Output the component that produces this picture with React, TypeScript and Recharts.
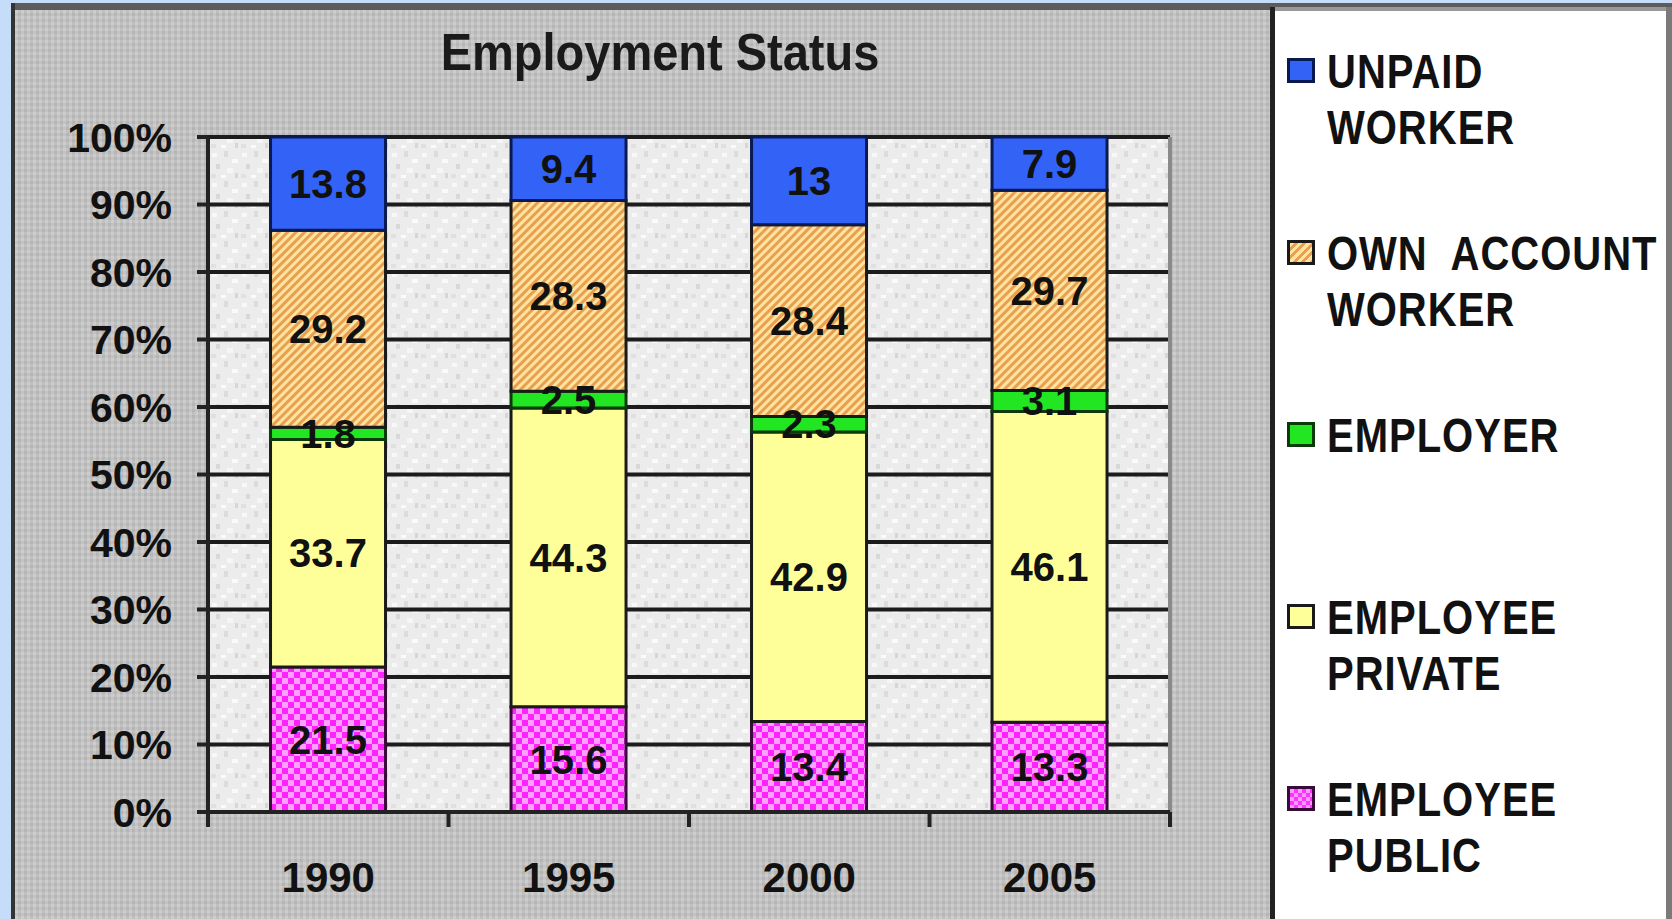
import React from 'react';
import { BarChart, Bar, XAxis, YAxis, CartesianGrid, LabelList, Legend } from 'recharts';

const years = ['1990', '1995', '2000', '2005'];
const employeePublic = [21.5, 15.6, 13.4, 13.3];
const employeePrivate = [33.7, 44.3, 42.9, 46.1];
const employer = [1.8, 2.5, 2.3, 3.1];
const ownAccount = [29.2, 28.3, 28.4, 29.7];
const unpaidWorker = [13.8, 9.4, 13, 7.9];

const seriesKeys = ['public', 'private', 'employer', 'own', 'unpaid'];
const seriesNames = ['EMPLOYEE PUBLIC', 'EMPLOYEE PRIVATE', 'EMPLOYER', 'OWN ACCOUNT WORKER', 'UNPAID WORKER'];
const yTicks = [0, 0.1, 0.2, 0.3, 0.4, 0.5, 0.6, 0.7, 0.8, 0.9, 1];
const title = 'Employment Status';

const data = years.map((year, i) => ({
  year,
  public: employeePublic[i],
  private: employeePrivate[i],
  employer: employer[i],
  own: ownAccount[i],
  unpaid: unpaidWorker[i],
}));

const FONT = '"Liberation Sans", Arial, sans-serif';

const fills: Record<string, string> = {
  public: 'url(#checker)',
  private: '#ffff99',
  employer: '#22e622',
  own: 'url(#hatch)',
  unpaid: '#3262f6',
};
const strokes: Record<string, string> = {
  public: '#3a0a3a',
  private: '#1a1a1a',
  employer: '#0a3a0a',
  own: '#1a1a1a',
  unpaid: '#0a1a50',
};
const swatches: Record<string, string> = {
  public: 'repeating-conic-gradient(#ff33ff 0% 25%, #ff99ff 0% 50%) 0 0 / 8px 8px',
  private: '#ffff99',
  employer: '#22e622',
  own: 'repeating-linear-gradient(135deg, #ffe3a0 0 3px, #e8a050 3px 6px)',
  unpaid: '#3262f6',
};

const X_GAP = 50;

const XTick = (props: any) => {
  const { x, y, payload, index, visibleTicksCount, width } = props;
  const half = payload && typeof payload.offset === 'number' && payload.offset > 0
    ? payload.offset
    : width / visibleTicksCount / 2;
  const axisY = y - X_GAP;
  return (
    <g>
      <line x1={x - half} x2={x - half} y1={axisY} y2={axisY + 15} stroke="#222" strokeWidth={4} />
      {index === visibleTicksCount - 1 && (
        <line x1={x + half} x2={x + half} y1={axisY} y2={axisY + 15} stroke="#222" strokeWidth={4} />
      )}
      <text x={x} y={y} dy="0.71em" textAnchor="middle" fontSize={42} fontWeight={700} fill="#111" fontFamily={FONT}>
        {payload.value}
      </text>
    </g>
  );
};

const LegendContent = (props: any) => {
  const payload = [...(props.payload || [])];
  const order = [...seriesKeys].reverse();
  payload.sort((a: any, b: any) => order.indexOf(a.dataKey) - order.indexOf(b.dataKey));
  return (
    <div style={{ position: 'relative', width: 391, height: 909, fontFamily: FONT }}>
      {payload.map((it: any, i: number) => {
        const words = String(it.value).split(' ');
        const line1 = words.length > 1 ? words.slice(0, -1).join('  ') : words[0];
        const line2 = words.length > 1 ? words[words.length - 1] : '';
        const cy = 60.5 + i * 182;
        return (
          <div key={it.dataKey}>
            <div
              style={{
                position: 'absolute',
                left: 12,
                top: cy - 12.5,
                width: 22,
                height: 19,
                border: '3px solid ' + (strokes[it.dataKey] || '#111'),
                background: swatches[it.dataKey],
              }}
            />
            {[line1, line2].map((ln, j) => (
              <div
                key={j}
                style={{
                  position: 'absolute',
                  left: 52,
                  top: cy - 27.5 + j * 56,
                  height: 56,
                  lineHeight: '56px',
                  fontSize: 40,
                  fontWeight: 700,
                  letterSpacing: 1,
                  color: '#111',
                  whiteSpace: 'pre',
                  transform: 'scaleY(1.2)',
                  transformOrigin: '0 28px',
                }}
              >
                {ln}
              </div>
            ))}
          </div>
        );
      })}
    </div>
  );
};

const panelTexture =
  'repeating-linear-gradient(90deg, rgba(255,255,255,0.10) 0 3px, rgba(0,0,0,0.035) 3px 6px), ' +
  'repeating-linear-gradient(0deg, rgba(255,255,255,0.08) 0 3px, rgba(0,0,0,0.03) 3px 6px), #c2c2c2';

export default function App() {
  return (
    <div
      style={{
        position: 'absolute',
        left: 0,
        top: 0,
        width: 1672,
        height: 919,
        overflow: 'hidden',
        background: '#c6ddfa',
        fontFamily: FONT,
      }}
    >
      <div style={{ position: 'absolute', left: 11, top: 3, width: 1661, height: 7, background: '#5c5c5c' }} />
      <div style={{ position: 'absolute', left: 11, top: 3, width: 4, height: 916, background: '#333' }} />
      <div style={{ position: 'absolute', left: 15, top: 10, width: 1255, height: 909, background: panelTexture }} />
      <div style={{ position: 'absolute', left: 1270, top: 7, width: 5, height: 912, background: '#222' }} />
      <div style={{ position: 'absolute', left: 1275, top: 7, width: 392, height: 4, background: '#999' }} />
      <div style={{ position: 'absolute', left: 1275, top: 11, width: 391, height: 908, background: '#ffffff' }} />
      <div style={{ position: 'absolute', left: 1666, top: 7, width: 6, height: 912, background: '#7a7a7a' }} />
      <div
        style={{
          position: 'absolute',
          left: 0,
          top: 21.5,
          width: 1320,
          height: 60,
          lineHeight: '60px',
          textAlign: 'center',
          fontSize: 47,
          fontWeight: 700,
          color: '#1a1a1a',
          transform: 'scaleY(1.12)',
          transformOrigin: '50% 30px',
        }}
      >
        {title}
      </div>
      <div style={{ position: 'absolute', left: 0, top: 0 }}>
        <BarChart
          width={1672}
          height={919}
          data={data}
          stackOffset="expand"
          barCategoryGap="26%"
          margin={{ top: 137, right: 502, bottom: 47, left: 0 }}
          style={{ fontFamily: FONT }}
        >
          <defs>
            <pattern id="hatch" width="6" height="6" patternUnits="userSpaceOnUse" patternTransform="rotate(45)">
              <rect width="6" height="6" fill="#ffe3a0" />
              <rect width="3" height="6" fill="#e8a050" />
            </pattern>
            <pattern id="checker" width="12" height="12" patternUnits="userSpaceOnUse">
              <rect width="12" height="12" fill="#ff22ff" />
              <rect width="6" height="6" fill="#ffa0ff" />
              <rect x="6" y="6" width="6" height="6" fill="#ffa0ff" />
            </pattern>
            <pattern id="plotBg" width="30" height="30" patternUnits="userSpaceOnUse">
              <rect width="30" height="30" fill="#ececec" />
              <rect x="2" y="3" width="5" height="4" fill="#f8f8f8" />
              <rect x="14" y="1" width="4" height="6" fill="#dcdcdc" />
              <rect x="22" y="9" width="6" height="4" fill="#fafafa" />
              <rect x="6" y="14" width="4" height="5" fill="#d8d8d8" />
              <rect x="17" y="18" width="6" height="5" fill="#f6f6f6" />
              <rect x="1" y="24" width="5" height="4" fill="#e0e0e0" />
              <rect x="25" y="23" width="3" height="5" fill="#d6d6d6" />
              <rect x="11" y="25" width="5" height="3" fill="#fbfbfb" />
            </pattern>
          </defs>
          <CartesianGrid vertical={false} stroke="#1c1c1c" strokeWidth={4} fill="url(#plotBg)" />
          <CartesianGrid
            horizontal={false}
            stroke="#8a8a8a"
            strokeWidth={4}
            verticalCoordinatesGenerator={({ offset }: any) => [offset.left + offset.width]}
          />
          <XAxis
            dataKey="year"
            height={60}
            tickSize={0}
            tickMargin={X_GAP}
            tickLine={false}
            axisLine={{ stroke: '#222', strokeWidth: 4 }}
            tick={<XTick />}
          />
          <YAxis
            width={208}
            domain={[0, 1]}
            ticks={yTicks}
            tickSize={11}
            tickMargin={25}
            interval={0}
            tickFormatter={(v: number) => `${Math.round(v * 100)}%`}
            axisLine={{ stroke: '#222', strokeWidth: 4 }}
            tickLine={{ stroke: '#222', strokeWidth: 4 }}
            tick={{ fontSize: 41, fontWeight: 700, fill: '#111', fontFamily: FONT }}
          />
          {seriesKeys.map((k, i) => (
            <Bar
              key={k}
              dataKey={k}
              name={seriesNames[i]}
              stackId="a"
              fill={fills[k]}
              stroke={strokes[k]}
              strokeWidth={3}
              isAnimationActive={false}
            >
              <LabelList
                dataKey={k}
                position="center"
                fill="#111"
                fontSize={40}
                fontWeight={700}
                fontFamily={FONT}
              />
            </Bar>
          ))}
          <Legend
            layout="vertical"
            align="center"
            verticalAlign="middle"
            wrapperStyle={{ left: 1275, top: 10, width: 391, height: 909 }}
            content={<LegendContent />}
          />
        </BarChart>
      </div>
    </div>
  );
}
